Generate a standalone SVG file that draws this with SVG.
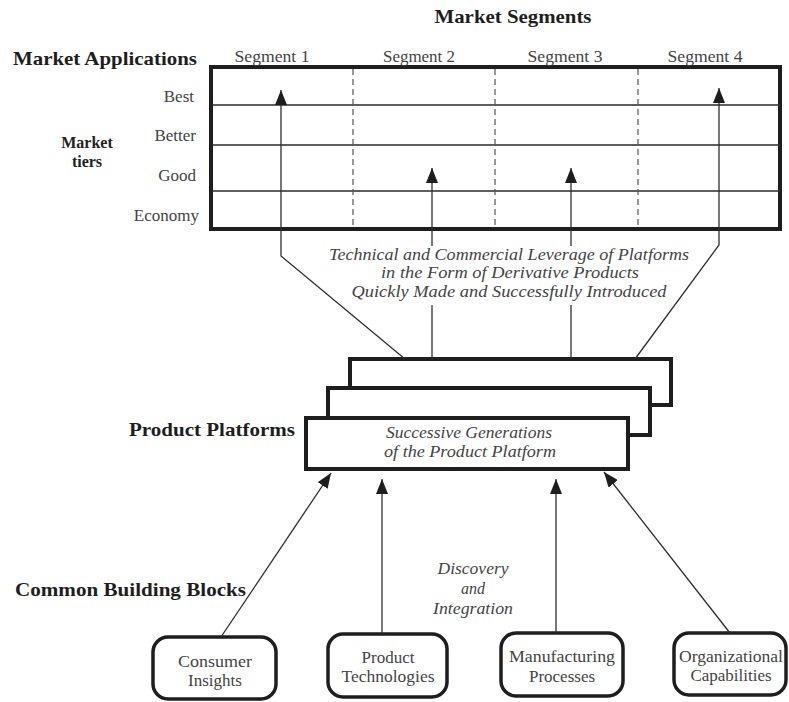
<svg xmlns="http://www.w3.org/2000/svg" width="789" height="702" viewBox="0 0 789 702">
  <style>
    .bg { fill: #ffffff; }
    .frame { fill: #ffffff; stroke: #1e1e1e; stroke-width: 4; }
    .tier { stroke: #2a2a2a; stroke-width: 1.6; fill: none; }
    .divider { stroke: #555555; stroke-width: 1.2; stroke-dasharray: 6 4; fill: none; }
    .plat { fill: #ffffff; stroke: #1e1e1e; stroke-width: 4; }
    .block { fill: #ffffff; stroke: #1e1e1e; stroke-width: 3.5; }
    .link { stroke: #2e2e2e; stroke-width: 1.3; fill: none; }
    .head { font-family: "Liberation Serif", "Times New Roman", serif; font-weight: bold; font-size: 19px; fill: #1e1e1e; }
    .sub { font-family: "Liberation Serif", "Times New Roman", serif; font-weight: bold; font-size: 16px; fill: #222222; }
    .lbl { font-family: "Liberation Serif", "Times New Roman", serif; font-size: 17px; fill: #444444; }
    .ital { font-family: "Liberation Serif", "Times New Roman", serif; font-style: italic; font-size: 16px; fill: #444444; }
    .mid { text-anchor: middle; }
    .end { text-anchor: end; }
  </style>
  <defs>
    <marker id="tip" markerUnits="userSpaceOnUse" markerWidth="15" markerHeight="12" refX="15" refY="6" orient="auto">
      <path d="M0,0 L15,6 L0,12 z" fill="#1e1e1e"/>
    </marker>
  </defs>

  <rect class="bg" x="0" y="0" width="789" height="702"/>

  <!-- headings -->
  <g id="headings">
    <text class="head mid" x="513" y="23" textLength="157" lengthAdjust="spacingAndGlyphs">Market Segments</text>
    <text class="head" x="13" y="65" textLength="184" lengthAdjust="spacingAndGlyphs">Market Applications</text>
    <text class="sub mid" x="87" y="148">Market</text>
    <text class="sub mid" x="87" y="167">tiers</text>
    <text class="head" x="129" y="436" textLength="166" lengthAdjust="spacingAndGlyphs">Product Platforms</text>
    <text class="head" x="15" y="596" textLength="231" lengthAdjust="spacingAndGlyphs">Common Building Blocks</text>
  </g>

  <!-- segment / tier grid -->
  <g id="market-grid">
    <rect class="frame" x="211" y="67" width="569" height="162"/>
    <line class="tier" x1="211" y1="105" x2="780" y2="105"/>
    <line class="tier" x1="211" y1="145" x2="780" y2="145"/>
    <line class="tier" x1="211" y1="191" x2="780" y2="191"/>
    <line class="divider" x1="353" y1="69" x2="353" y2="227"/>
    <line class="divider" x1="495" y1="69" x2="495" y2="227"/>
    <line class="divider" x1="638" y1="69" x2="638" y2="227"/>
    <text class="lbl mid" x="272" y="62" textLength="75" lengthAdjust="spacingAndGlyphs">Segment 1</text>
    <text class="lbl mid" x="419" y="62" textLength="72" lengthAdjust="spacingAndGlyphs">Segment 2</text>
    <text class="lbl mid" x="565" y="62" textLength="75" lengthAdjust="spacingAndGlyphs">Segment 3</text>
    <text class="lbl mid" x="705" y="62" textLength="75" lengthAdjust="spacingAndGlyphs">Segment 4</text>
    <text class="lbl end" x="194" y="102">Best</text>
    <text class="lbl end" x="196" y="141">Better</text>
    <text class="lbl end" x="196" y="181">Good</text>
    <text class="lbl end" x="199" y="221">Economy</text>
  </g>

  <!-- leverage caption -->
  <g id="leverage-caption">
    <text class="ital mid" x="509" y="260" textLength="360" lengthAdjust="spacingAndGlyphs">Technical and Commercial Leverage of Platforms</text>
    <text class="ital mid" x="510" y="278" textLength="258" lengthAdjust="spacingAndGlyphs">in the Form of Derivative Products</text>
    <text class="ital mid" x="509" y="297" textLength="315" lengthAdjust="spacingAndGlyphs">Quickly Made and Successfully Introduced</text>
  </g>

  <!-- stacked platform generations -->
  <g id="platforms">
    <rect class="plat" x="350" y="359" width="321" height="46"/>
    <rect class="plat" x="328" y="388" width="322" height="47"/>
    <rect class="plat" x="306" y="418" width="322" height="51"/>
    <text class="ital mid" x="469" y="438" textLength="166" lengthAdjust="spacingAndGlyphs">Successive Generations</text>
    <text class="ital mid" x="470" y="457" textLength="172" lengthAdjust="spacingAndGlyphs">of the Product Platform</text>
  </g>

  <!-- discovery caption -->
  <g id="discovery-caption">
    <text class="ital mid" x="473" y="574" textLength="71" lengthAdjust="spacingAndGlyphs">Discovery</text>
    <text class="ital mid" x="473" y="594">and</text>
    <text class="ital mid" x="473" y="614" textLength="80" lengthAdjust="spacingAndGlyphs">Integration</text>
  </g>

  <!-- building blocks -->
  <g id="consumer-insights">
    <rect class="block" x="153" y="637" width="123" height="62" rx="15"/>
    <text class="lbl mid" x="215" y="667" textLength="74" lengthAdjust="spacingAndGlyphs">Consumer</text>
    <text class="lbl mid" x="215" y="686">Insights</text>
  </g>
  <g id="product-technologies">
    <rect class="block" x="328" y="634" width="119" height="63" rx="15"/>
    <text class="lbl mid" x="388" y="663">Product</text>
    <text class="lbl mid" x="388" y="682" textLength="93" lengthAdjust="spacingAndGlyphs">Technologies</text>
  </g>
  <g id="manufacturing-processes">
    <rect class="block" x="501" y="633" width="122" height="63" rx="15"/>
    <text class="lbl mid" x="562" y="662" textLength="106" lengthAdjust="spacingAndGlyphs">Manufacturing</text>
    <text class="lbl mid" x="562" y="682">Processes</text>
  </g>
  <g id="organizational-capabilities">
    <rect class="block" x="674" y="633" width="112" height="62" rx="15"/>
    <text class="lbl mid" x="731" y="662" textLength="104" lengthAdjust="spacingAndGlyphs">Organizational</text>
    <text class="lbl mid" x="731" y="681">Capabilities</text>
  </g>

  <!-- connectors -->
  <g id="connectors">
    <!-- platform to market segments -->
    <path class="link" d="M405,359 L281,256 L281,90" marker-end="url(#tip)"/>
    <path class="link" d="M432,359 L432,305"/>
    <path class="link" d="M432,246 L432,168" marker-end="url(#tip)"/>
    <path class="link" d="M571,359 L571,305"/>
    <path class="link" d="M571,246 L571,168" marker-end="url(#tip)"/>
    <path class="link" d="M635,359 L719,245 L719,88" marker-end="url(#tip)"/>
    <!-- building blocks to platform -->
    <path class="link" d="M221,637 L331,473" marker-end="url(#tip)"/>
    <path class="link" d="M382,634 L382,479" marker-end="url(#tip)"/>
    <path class="link" d="M556,633 L556,479" marker-end="url(#tip)"/>
    <path class="link" d="M730,633 L604,472" marker-end="url(#tip)"/>
  </g>
</svg>
